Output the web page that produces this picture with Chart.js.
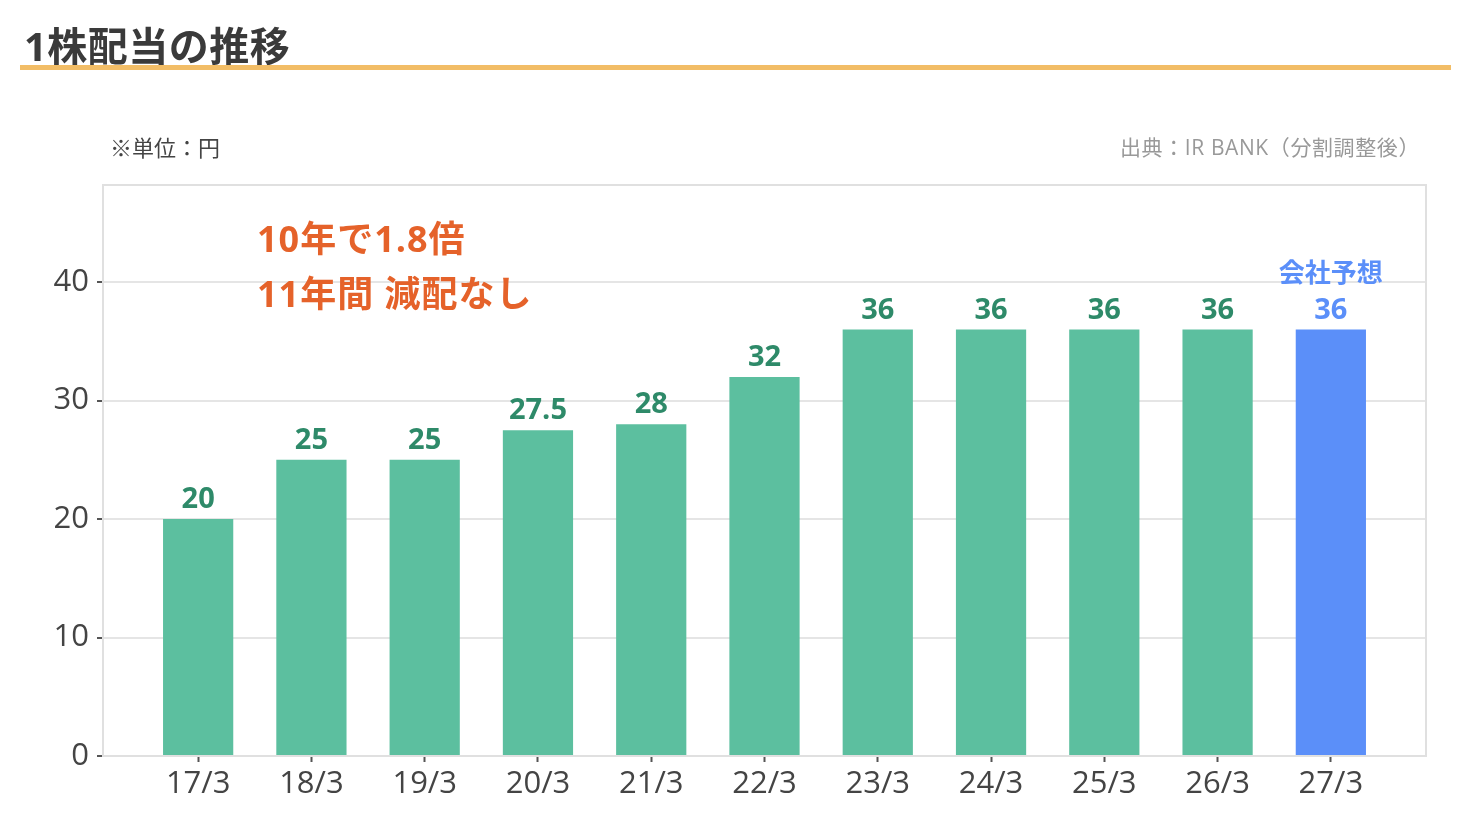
<!DOCTYPE html>
<html lang="ja">
<head>
<meta charset="utf-8">
<title>1株配当の推移</title>
<script src="https://cdn.jsdelivr.net/npm/chart.js@4.4.1/dist/chart.umd.min.js"></script>
<style>
  html, body { margin: 0; padding: 0; background: #fff; }
  body { width: 1470px; height: 840px; position: relative; overflow: hidden;
         font-family: "Open Sans", "Noto Sans CJK JP", sans-serif; }
  .title { position: absolute; left: 24px; top: 22px; font-size: 40px; font-weight: 700;
           color: #3a3a3a; line-height: 48px; letter-spacing: 0.5px; }
  .rule { position: absolute; left: 20px; top: 65px; width: 1431px; height: 5px; background: #f2bd66; }
  .unit { position: absolute; left: 110px; top: 132px; font-size: 22px; color: #444; line-height: 30px; }
  .source { position: absolute; right: 50px; top: 133px; font-size: 21px; color: #999; line-height: 28px; letter-spacing: 0.6px; }
  .note { position: absolute; left: 257px; font-size: 36px; font-weight: 700; color: #e5622a; line-height: 40px; letter-spacing: 1px; }
  #wrap { position: absolute; left: 0; top: 0; width: 1470px; height: 840px; }
</style>
</head>
<body>
<div id="wrap"><canvas id="dividendChart"></canvas></div>
<div class="title">1株配当の推移</div>
<div class="rule"></div>
<div class="unit">※単位：円</div>
<div class="source">出典：IR BANK（分割調整後）</div>
<div class="note" style="top:219px">10年で1.8倍</div>
<div class="note" style="top:274px">11年間 減配なし</div>
<script>
const years = ['17/3', '18/3', '19/3', '20/3', '21/3', '22/3', '23/3', '24/3', '25/3', '26/3', '27/3'];
const dividends = [20, 25, 25, 27.5, 28, 32, 36, 36, 36, 36, 36];
const isForecast = [false, false, false, false, false, false, false, false, false, false, true];
const yTicks = [0, 10, 20, 30, 40];

const GREEN = '#5cbf9f';
const GREEN_TEXT = '#2e8a69';
const BLUE = '#5b8ff9';
const FONT = '"Open Sans", "Noto Sans CJK JP", sans-serif';

const frameAndLabels = {
  id: 'frameAndLabels',
  beforeDatasetsDraw(chart) {
    const { ctx, chartArea: a } = chart;
    ctx.save();
    ctx.strokeStyle = '#e0e0e0';
    ctx.lineWidth = 2;
    ctx.strokeRect(a.left, a.top, a.right - a.left, a.bottom - a.top);
    ctx.restore();
  },
  afterDatasetsDraw(chart) {
    const { ctx } = chart;
    const meta = chart.getDatasetMeta(0);
    ctx.save();
    ctx.textAlign = 'center';
    ctx.textBaseline = 'alphabetic';
    meta.data.forEach((bar, i) => {
      ctx.fillStyle = isForecast[i] ? BLUE : GREEN_TEXT;
      ctx.font = '700 29px ' + FONT;
      ctx.fillText(String(dividends[i]), bar.x, bar.y - 11);
      if (isForecast[i]) {
        ctx.font = '700 26px "Noto Sans CJK JP", sans-serif';
        ctx.fillText('会社予想', bar.x, bar.y - 48);
      }
    });
    ctx.restore();
  },
};

function buildChart() {
  const ctx = document.getElementById('dividendChart');
  new Chart(ctx, {
    type: 'bar',
    data: {
      datasets: [{
        data: dividends.map((v, i) => ({ x: i, y: v })),
        backgroundColor: isForecast.map((f) => (f ? BLUE : GREEN)),
        barPercentage: 1,
        categoryPercentage: 0.62,
      }],
    },
    options: {
      responsive: true,
      maintainAspectRatio: false,
      animation: false,
      layout: { padding: { top: 185, right: 44, left: 0, bottom: 0 } },
      plugins: { legend: { display: false }, tooltip: { enabled: false } },
      scales: {
        x: {
          type: 'linear',
          offset: false,
          min: -0.84,
          max: years.length - 1 + 0.84,
          afterBuildTicks: (s) => { s.ticks = years.map((_, i) => ({ value: i })); },
          afterFit: (s) => { s.height = 84; },
          grid: { offset: false, drawOnChartArea: false, drawTicks: true, tickLength: 6, tickColor: '#555', tickWidth: 2 },
          border: { color: '#e0e0e0', width: 2 },
          ticks: {
            color: '#444',
            font: { family: FONT, size: 31 },
            padding: 4,
            maxRotation: 0,
            callback: (v) => years[v],
          },
        },
        y: {
          min: 0,
          max: 48.2,
          afterBuildTicks: (s) => { s.ticks = yTicks.map((v) => ({ value: v })); },
          afterFit: (s) => { s.width = 103; },
          grid: { color: '#e5e5e5', lineWidth: 2, tickLength: 6, tickColor: '#555', tickWidth: 2 },
          border: { color: '#e0e0e0', width: 2 },
          ticks: {
            color: '#444',
            font: { family: FONT, size: 31 },
            padding: 8,
          },
        },
      },
    },
    plugins: [frameAndLabels],
  });
}

document.addEventListener('DOMContentLoaded', buildChart);
</script>
</body>
</html>
